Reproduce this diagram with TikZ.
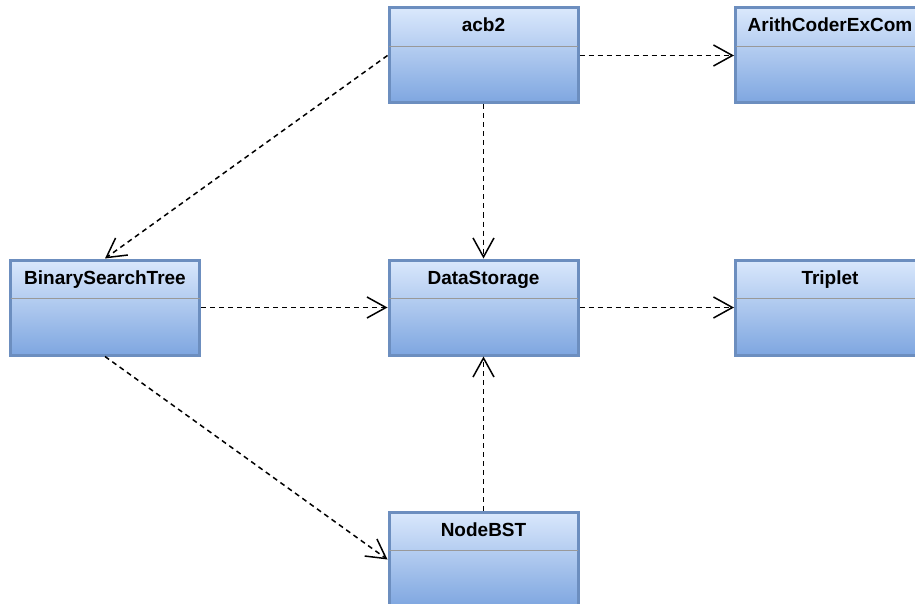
\documentclass[tikz,border=0pt]{standalone}
\usepackage{fontspec}
\setmainfont{Liberation Sans}
\usetikzlibrary{arrows.meta,calc}
\definecolor{boxtop}{HTML}{DAE8FC}
\definecolor{boxbot}{HTML}{7EA6E0}
\definecolor{boxline}{HTML}{6C8EBF}
\definecolor{sepline}{HTML}{999999}
\tikzset{
  classbox/.style={rectangle, draw=boxline, line width=3pt, top color=boxtop, bottom color=boxbot, minimum width=189pt, minimum height=95pt, inner sep=0pt},
  classtitle/.style={font=\fontsize{19}{22}\selectfont\bfseries, text=black, inner sep=0pt, anchor=base},
  sepl/.style={draw=sepline, line width=1.6pt},
  dep/.style={dashed, dash pattern=on 5pt off 4pt, line width=1.5pt, -{Straight Barb[length=19pt,width=21pt,line width=1.5pt]}}
}
\begin{document}
\begin{tikzpicture}[x=1pt,y=-1pt]
\useasboundingbox (0,0) rectangle (915,604);
\node[classbox] (acb2) at (483.5,55.5) {};
\node[classbox] (arith) at (830,55.5) {};
\node[classbox] (bst) at (105,307.5) {};
\node[classbox] (ds) at (483.5,307.5) {};
\node[classbox] (trip) at (830,307.5) {};
\node[classbox] (nbst) at (483.5,559.5) {};
\foreach \n/\t in {acb2/acb2, arith/ArithCoderExCom, bst/BinarySearchTree, ds/DataStorage, trip/Triplet, nbst/NodeBST}{
  \node[classtitle] (\n-title) at ($(\n.north)+(0,25.5)$) {\t};
  \draw[sepl] ($(\n.north west)+(1.5,40)$) -- ($(\n.north east)+(-1.5,40)$);
}
\draw[dep] (acb2.east) -- (arith.west);
\draw[dep] (acb2.south) -- (ds.north);
\draw[dep] (acb2.west) -- (bst.north);
\draw[dep] (bst.east) -- (ds.west);
\draw[dep] (ds.east) -- (trip.west);
\draw[dep] (bst.south) -- (nbst.west);
\draw[dep] (nbst.north) -- (ds.south);
\end{tikzpicture}
\end{document}
